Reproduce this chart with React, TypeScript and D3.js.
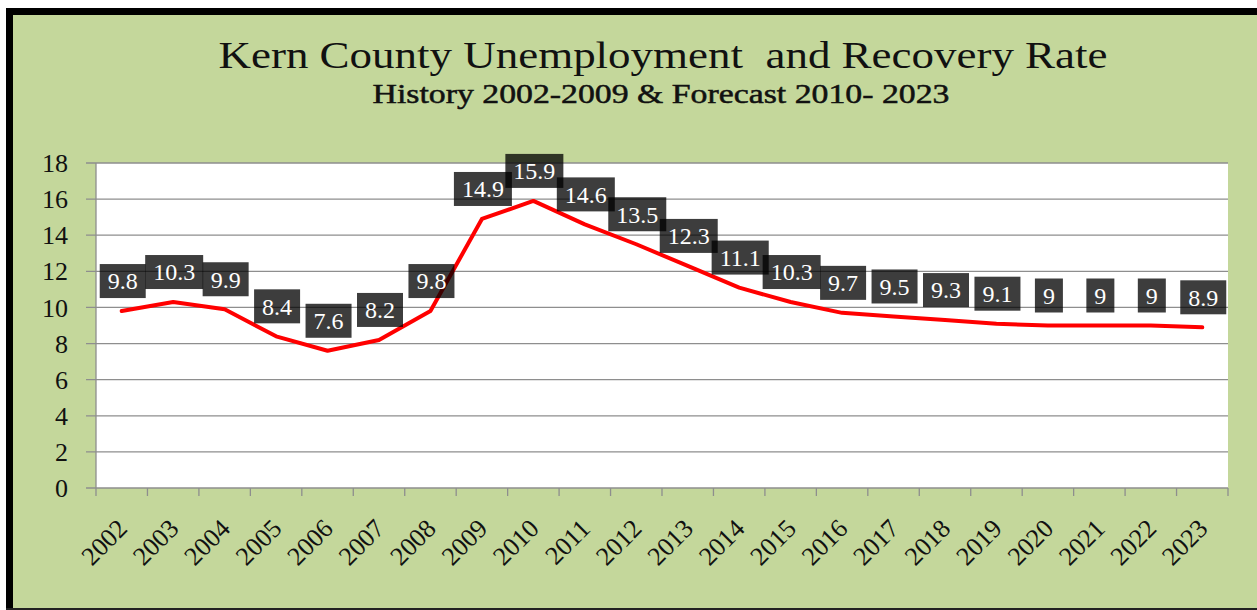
import React, { useEffect, useRef } from "react";
import * as d3 from "d3";

const years = ["2002","2003","2004","2005","2006","2007","2008","2009","2010","2011","2012","2013","2014","2015","2016","2017","2018","2019","2020","2021","2022","2023"];
const rates = [9.8, 10.3, 9.9, 8.4, 7.6, 8.2, 9.8, 14.9, 15.9, 14.6, 13.5, 12.3, 11.1, 10.3, 9.7, 9.5, 9.3, 9.1, 9, 9, 9, 8.9];
const yTicks = [0, 2, 4, 6, 8, 10, 12, 14, 16, 18];
const title = "Kern County Unemployment  and Recovery Rate";
const subtitle = "History 2002-2009 & Forecast 2010- 2023";

const W = 1257, H = 610;
const plot = { left: 96, right: 1228, top: 163, bottom: 488 };
const serif = "'Liberation Serif', 'DejaVu Serif', serif";

export default function App() {
  const ref = useRef<SVGSVGElement>(null);
  useEffect(() => {
    const svg = d3.select(ref.current);
    svg.selectAll("*").remove();

    // frame
    svg.append("rect").attr("x", 13).attr("y", 15).attr("width", W - 13).attr("height", 593).attr("fill", "#C4D79B");
    svg.append("rect").attr("x", 6).attr("y", 8).attr("width", W - 6).attr("height", 7).attr("fill", "#000");
    svg.append("rect").attr("x", 6).attr("y", 8).attr("width", 7).attr("height", 602).attr("fill", "#000");
    svg.append("rect").attr("x", 6).attr("y", 608).attr("width", W - 6).attr("height", 2).attr("fill", "#222");

    // titles
    svg.append("text").attr("x", 663).attr("y", 68).attr("text-anchor", "middle")
      .attr("font-family", serif).attr("font-size", 38).attr("fill", "#111")
      .attr("textLength", 889).attr("lengthAdjust", "spacingAndGlyphs")
      .style("white-space", "pre").text(title);
    svg.append("text").attr("x", 661).attr("y", 103).attr("text-anchor", "middle")
      .attr("font-family", serif).attr("font-size", 27).attr("fill", "#111")
      .attr("stroke", "#111").attr("stroke-width", 0.5)
      .attr("textLength", 577).attr("lengthAdjust", "spacingAndGlyphs")
      .text(subtitle);

    const x = d3.scaleBand().domain(years).range([plot.left, plot.right]).padding(0);
    const y = d3.scaleLinear().domain([0, 18]).range([plot.bottom, plot.top]);

    svg.append("rect").attr("x", plot.left).attr("y", plot.top)
      .attr("width", plot.right - plot.left).attr("height", plot.bottom - plot.top).attr("fill", "#fff");

    // gridlines
    svg.append("g").selectAll("line").data(yTicks).join("line")
      .attr("x1", plot.left - 10).attr("x2", plot.right)
      .attr("y1", d => y(d)).attr("y2", d => y(d))
      .attr("stroke", "#8E8E8E").attr("stroke-width", 1.3);
    svg.append("g").selectAll("text").data(yTicks).join("text")
      .attr("x", 68).attr("y", d => y(d)).attr("dy", "0.35em").attr("text-anchor", "end")
      .attr("font-family", serif).attr("font-size", 26).attr("fill", "#111").text(d => String(d));

    // x axis
    svg.append("line").attr("x1", plot.left).attr("x2", plot.left).attr("y1", plot.top).attr("y2", plot.bottom)
      .attr("stroke", "#8E8E8E").attr("stroke-width", 1.3);
    const bounds = years.map(d => x(d)!).concat([plot.right]);
    svg.append("g").selectAll("line").data(bounds).join("line")
      .attr("x1", d => d).attr("x2", d => d).attr("y1", plot.bottom).attr("y2", plot.bottom + 8)
      .attr("stroke", "#8E8E8E").attr("stroke-width", 1.3);
    svg.append("g").selectAll("text").data(years).join("text")
      .attr("transform", d => `translate(${x(d)! + x.bandwidth() / 2 + 7},${plot.bottom + 42}) rotate(-45)`)
      .attr("text-anchor", "end")
      .attr("font-family", serif).attr("font-size", 26).attr("fill", "#111").text(d => d);

    // line
    const cx = (i: number) => x(years[i])! + x.bandwidth() / 2;
    const line = d3.line<number>().x((_, i) => cx(i)).y(d => y(d)).curve(d3.curveLinear);
    svg.append("path").attr("d", line(rates)).attr("fill", "none").attr("stroke", "#FF0000")
      .attr("stroke-width", 4).attr("stroke-linejoin", "round").attr("stroke-linecap", "round");

    // labels
    const lg = svg.append("g");
    rates.forEach((v, i) => {
      const g = lg.append("g").attr("transform", `translate(${cx(i) + 1},${y(v) - 30})`);
      const rect = g.append("rect").attr("fill", "#000").attr("fill-opacity", 0.76);
      const t = g.append("text").attr("text-anchor", "middle").attr("dy", "0.35em")
        .attr("font-family", serif).attr("font-size", 24).attr("fill", "#fff").text(String(v));
      const w = (t.node() as SVGTextElement).getComputedTextLength() + 16;
      rect.attr("x", -w / 2).attr("y", -17).attr("width", w).attr("height", 34);
    });
  }, []);
  return <svg ref={ref} width={W} height={H} style={{ position: "absolute", left: 0, top: 0 }} />;
}
